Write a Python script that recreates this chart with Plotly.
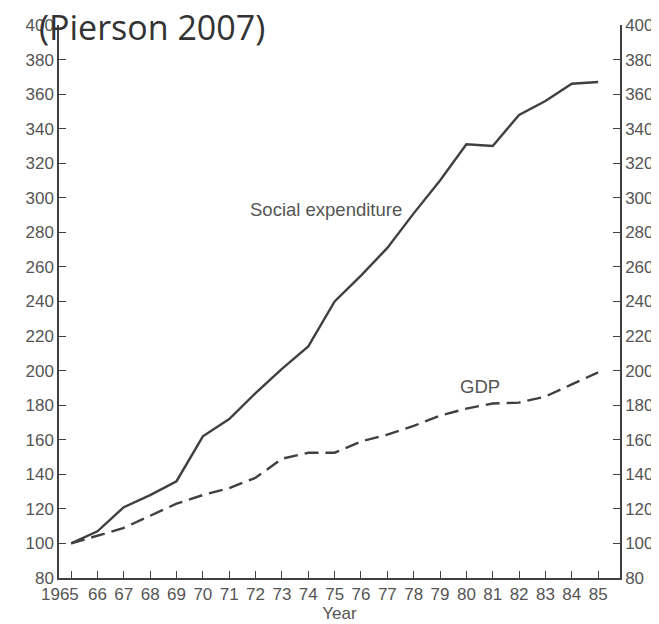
import plotly.graph_objects as go

years = list(range(1965, 1986))
social_expenditure = [100, 107, 121, 128, 136, 162, 172, 187, 201, 214, 240,
                      255, 271, 291, 310, 331, 330, 348, 356, 366, 367]
gdp = [100, 104.5, 109, 116, 123, 128, 132, 138, 149, 152.5, 152.5,
       159, 163, 168, 174, 178, 181, 181.5, 185, 192, 199]
x_tick_vals = list(range(1965, 1986))
x_tick_text = [""] + [str(y)[2:] for y in range(1966, 1986)]
first_year_label = "1965"
y_tick_vals = list(range(80, 401, 20))

line_col = "#404040"
text_col = "#555555"
tick_font = dict(family="Liberation Sans, Arial, sans-serif", size=17, color=text_col)
label_font = dict(family="Liberation Sans, Arial, sans-serif", size=18.5, color=text_col)

fig = go.Figure()
fig.add_trace(go.Scatter(x=years, y=social_expenditure, mode="lines",
                         line=dict(color=line_col, width=2.4), name="Social expenditure",
                         yaxis="y"))
fig.add_trace(go.Scatter(x=years, y=gdp, mode="lines",
                         line=dict(color=line_col, width=2.4, dash="14px,7px"), name="GDP",
                         yaxis="y"))
# invisible trace to show the right axis
fig.add_trace(go.Scatter(x=[years[0]], y=[social_expenditure[0]], yaxis="y2",
                         mode="markers", marker=dict(opacity=0), hoverinfo="skip"))

axis_common = dict(showgrid=False, zeroline=False, showline=True, linecolor=line_col,
                   linewidth=1.5, ticks="inside", ticklen=7, tickwidth=1.3,
                   tickcolor=line_col, tickfont=tick_font, automargin=False)

W, H = 651, 616
fig.update_layout(
    width=W, height=H,
    margin=dict(l=51, r=39, t=17, b=46),
    paper_bgcolor="white", plot_bgcolor="white",
    showlegend=False,
    title=dict(text="(Pierson 2007)", xref="container", yref="container",
               x=31/W, y=1-20/H, xanchor="left", yanchor="middle",
               font=dict(family="Open Sans, Noto Sans, sans-serif", size=34, color="#333333")),
    xaxis=dict(range=[1964.54, 1985.83], tickvals=x_tick_vals, ticktext=x_tick_text,
               tickangle=0,
               title=dict(text="Year", font=tick_font, standoff=4), **axis_common),
    yaxis=dict(range=[80, 400], tickvals=y_tick_vals, **axis_common),
    yaxis2=dict(range=[80, 400], tickvals=y_tick_vals, overlaying="y", side="right",
                **axis_common),
    annotations=[
        dict(x=1974.66, y=293, xref="x", yref="y", text="Social expenditure",
             showarrow=False, font=label_font),
        dict(x=1980.5, y=191, xref="x", yref="y", text="GDP",
             showarrow=False, font=label_font),
        dict(x=years[0], y=0, xref="x", yref="paper", text=first_year_label,
             xanchor="right", yanchor="middle", xshift=10, yshift=-16,
             showarrow=False, font=tick_font),
    ],
)

fig.write_html("out.html")
